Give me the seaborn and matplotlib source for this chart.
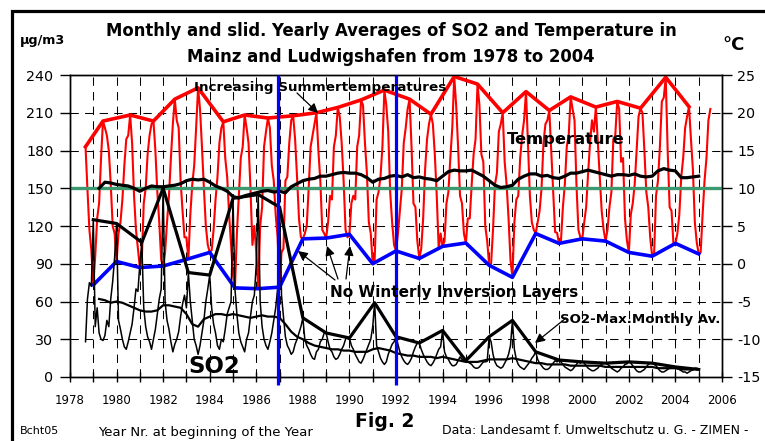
import numpy as np
import pandas as pd
import matplotlib
matplotlib.use("Agg")
import matplotlib.pyplot as plt
import seaborn as sns
from matplotlib.patches import Rectangle
from matplotlib.ticker import MultipleLocator

# ---------------- data ----------------
# Monthly temperature in degC, Sep 1978 .. Jul 2005
TEMP_START = 1978 + 8 / 12
temp_monthly = [
    15.5, 9.8, 4.5, 1.8,                                              # 1978 Sep-Dec
    -2.8, 1.0, 6.0, 8.0, 14.0, 18.9, 18.0, 17.0, 15.0, 10.5, 5.0, 4.0,  # 1979
    0.3, 4.0, 5.5, 8.5, 13.0, 16.5, 17.0, 19.7, 16.0, 9.0, 4.5, 2.0,    # 1980
    -0.5, 0.5, 8.0, 10.0, 14.5, 17.0, 18.5, 18.9, 15.0, 9.5, 5.5, 0.5,  # 1981
    -0.3, 1.5, 5.5, 9.0, 14.0, 18.5, 21.8, 19.0, 18.0, 11.0, 7.0, 3.5,  # 1982
    3.5, 0.65, 6.5, 10.5, 13.0, 18.0, 23.3, 20.5, 15.5, 10.0, 5.0, 2.5, # 1983
    1.5, 1.8, 4.5, 8.5, 11.5, 16.0, 18.0, 18.8, 14.0, 11.5, 6.5, 2.5,   # 1984
    -1.5, -3.2, 4.0, 9.0, 14.0, 15.5, 19.7, 18.0, 16.0, 10.0, 2.5, 5.0, # 1985
    1.5, -3.3, 5.0, 7.5, 15.5, 17.5, 19.3, 18.0, 13.0, 11.0, 6.5, 3.5,  # 1986
    -3.1, 1.5, 2.0, 11.0, 11.5, 16.0, 19.0, 19.6, 16.5, 11.5, 6.0, 3.5, # 1987
    3.3, 4.0, 5.0, 10.0, 15.5, 17.0, 18.5, 20.0, 15.0, 11.0, 4.5, 4.0,  # 1988
    3.4, 5.5, 9.0, 8.5, 15.5, 17.0, 20.7, 19.5, 16.0, 11.0, 4.5, 3.5,   # 1989
    3.9, 8.0, 9.0, 8.5, 15.5, 17.0, 21.7, 21.0, 16.0, 12.0, 5.5, 4.0,   # 1990
    0.0, 0.5, 8.5, 9.5, 11.5, 15.5, 23.0, 21.0, 17.5, 9.5, 5.5, 2.5,    # 1991
    1.7, 4.0, 7.0, 10.0, 16.0, 18.0, 20.5, 21.8, 15.5, 8.0, 7.5, 3.0,   # 1992
    0.7, 2.0, 6.0, 12.5, 16.5, 18.5, 19.8, 18.5, 14.5, 9.0, 2.0, 4.0,   # 1993
    2.3, 3.0, 8.0, 9.5, 14.0, 18.0, 24.8, 21.0, 15.5, 9.0, 8.0, 4.0,    # 1994
    2.75, 6.0, 6.0, 10.5, 14.5, 16.5, 23.8, 21.0, 14.5, 13.5, 5.0, 3.0, # 1995
    -0.2, 0.0, 4.5, 10.5, 12.0, 17.5, 18.5, 20.0, 13.5, 10.5, 6.0, 0.5, # 1996
    -1.8, 5.5, 8.5, 9.0, 14.0, 17.0, 19.0, 22.8, 16.0, 9.0, 5.5, 4.5,   # 1997
    4.0, 5.5, 7.0, 10.0, 16.0, 18.5, 19.0, 20.3, 15.0, 10.0, 4.2, 4.1,  # 1998
    2.7, 3.0, 7.5, 10.5, 15.5, 17.0, 22.1, 20.5, 19.0, 10.5, 4.5, 3.5,  # 1999
    3.3, 5.5, 7.5, 12.0, 16.0, 19.0, 17.5, 20.75, 16.0, 11.5, 7.0, 4.5, # 2000
    3.0, 4.5, 7.5, 9.5, 16.5, 17.0, 21.5, 20.5, 13.5, 14.0, 6.0, 3.1,   # 2001
    1.5, 6.5, 8.0, 10.5, 15.0, 19.5, 20.6, 20.0, 15.0, 9.5, 7.5, 3.5,   # 2002
    1.0, 1.2, 9.0, 11.0, 15.5, 21.5, 22.0, 24.7, 15.0, 7.5, 7.0, 2.5,   # 2003
    2.7, 4.0, 6.5, 11.5, 14.0, 18.0, 19.5, 20.8, 16.5, 12.5, 5.5, 2.8,  # 2004
    1.3, 1.5, 6.5, 11.0, 14.0, 19.0, 20.5,                              # 2005 Jan-Jul
]
# years used for the summer-max (red) and winter-min (blue) envelopes
max_env_years = (1978, 2004)
min_env_years = (1979, 2005)

# Sliding yearly average of temperature (degC), quarterly from 1979.25
TEMP_SLID_START = 1979.25
temp_sliding = [
    10.0, 10.8, 10.7,
    10.5, 10.4, 10.3, 10.0,  9.6, 10.0, 10.3, 10.2,  10.2, 10.3, 10.4, 10.6,
    11.0, 11.2, 11.1, 11.2,  10.8, 10.3, 10.0, 9.6,  8.9, 8.7, 9.0, 9.2,
    9.4, 9.6, 9.7, 9.5,      9.6, 9.4, 10.2, 10.6,   11.0, 11.2, 11.3, 11.6,
    11.6, 11.8, 12.0, 12.1,  12.0, 12.0, 11.8, 11.4, 10.8, 11.2, 11.3, 11.6,
    11.7, 11.5, 11.8, 11.4,  11.5, 11.3, 11.2, 11.0, 11.6, 12.2, 12.4, 12.3,
    12.3, 12.4, 12.0, 11.6,  11.0, 10.4, 10.1, 10.2, 10.4, 11.2, 11.6, 11.9,
    11.9, 11.6, 11.7, 11.4,  11.3, 11.6, 12.0, 12.0, 12.2, 12.4, 12.2, 12.0,
    11.8, 11.6, 11.8, 11.8,  11.7, 11.9, 11.6, 11.5, 11.6, 12.3, 12.6, 12.4,
    12.3, 11.4, 11.4, 11.5,  11.6,
]

# Monthly SO2 in ug/m3, Sep 1978 .. Jan 2005
SO2_START = 1978 + 8 / 12
so2_monthly = [
    28, 62, 75, 72,                                       # 1978 Sep-Dec
    125, 40, 55, 35, 30, 29, 33, 45, 40, 62, 76, 95,      # 1979
    122, 45, 38, 30, 24, 22, 28, 35, 42, 55, 70, 68,      # 1980
    90, 107, 55, 40, 32, 28, 22, 30, 38, 50, 62, 70,      # 1981
    150, 60, 45, 38, 28, 20, 26, 30, 36, 48, 58, 65,      # 1982
    55, 83, 60, 45, 30, 25, 18, 25, 35, 45, 60, 70,       # 1983
    81, 55, 42, 35, 25, 22, 30, 28, 38, 50, 55, 60,       # 1984
    142, 70, 50, 35, 28, 24, 20, 30, 35, 48, 60, 65,      # 1985
    90, 145, 60, 40, 30, 25, 22, 28, 35, 45, 55, 70,      # 1986
    135, 65, 48, 32, 25, 22, 18, 20, 26, 30, 35, 40,      # 1987
    47, 30, 25, 22, 18, 15, 14, 20, 22, 28, 30, 35,       # 1988
    35, 28, 22, 20, 16, 14, 15, 18, 22, 25, 30, 32,       # 1989
    31, 25, 22, 18, 15, 12, 11, 14, 18, 22, 26, 30,       # 1990
    40, 59, 25, 20, 15, 12, 10, 12, 18, 22, 26, 28,       # 1991
    32, 26, 20, 16, 13, 11, 10, 12, 15, 20, 24, 27,       # 1992
    27, 22, 18, 15, 12, 10, 9, 11, 14, 18, 22, 24,        # 1993
    37, 20, 16, 14, 11, 9, 9, 10, 13, 16, 14, 13,         # 1994
    13, 12, 11, 10, 8, 7, 7, 8, 10, 12, 12, 12.5,         # 1995
    32, 28, 18, 12, 9, 8, 7, 8, 11, 14, 18, 25,           # 1996
    45, 22, 14, 10, 8, 7, 6, 8, 10, 12, 15, 17,           # 1997
    20, 14, 11, 9, 7, 6, 6, 7, 9, 11, 13, 12,             # 1998
    13.5, 12, 10, 8, 7, 6, 5, 6, 8, 10, 12, 11,           # 1999
    12, 11, 9, 7, 6, 5, 5, 6, 7, 9, 10, 11,               # 2000
    11, 10, 9, 7, 6, 5, 4, 5, 7, 8, 10, 10.5,             # 2001
    12, 11, 9, 7, 5, 4, 4, 5, 6, 8, 10, 11,               # 2002
    11, 10, 9, 7, 5, 4, 4, 5, 6, 7, 9, 8,                 # 2003
    8, 7, 6, 5, 4, 4, 3, 4, 5, 6, 7, 7,                   # 2004
    6,                                                    # 2005 Jan
]
so2_max_years = (1979, 2005)

# Sliding yearly average of SO2, quarterly from 1979.25
SO2_SLID_START = 1979.25
so2_sliding = [
    62, 61, 59,
    60, 59, 57, 55,  53, 52, 52, 53,  57, 57, 56, 55,  50, 42, 40, 46,
    48, 50, 50, 49,  50, 49, 48, 47,  48, 49, 48, 48,  47, 42, 36, 32,
    30, 27, 25, 24,  23, 22, 22, 21,  21, 20, 20, 20,  22, 23, 22, 21,
    19, 18, 17, 17,  16, 16, 16, 15,  16, 15, 14, 13,  12, 12, 12, 13,
    14, 14, 14, 14,  15, 14, 13, 12,  11, 11, 10, 10,  10, 10, 9, 9,
    9, 9, 9, 9,      8, 8, 8, 8,      8, 8, 8, 8,      8, 7, 7, 7,
    7, 6, 6, 6,
]

# Event years marked with blue vertical lines
event_years = [1986.92, 1992.0]
ref_temp = 10  # degC reference (green line)

x_ticks_major = 2
so2_lim = (0, 240)
temp_lim = (-15, 25)

# ---------------- frames ----------------
temp_df = pd.DataFrame({"x": TEMP_START + np.arange(len(temp_monthly)) / 12,
                        "t": temp_monthly})
temp_df["year"] = np.floor(temp_df["x"] + 1e-6).astype(int)
so2_df = pd.DataFrame({"x": SO2_START + np.arange(len(so2_monthly)) / 12,
                       "v": so2_monthly})
so2_df["year"] = np.floor(so2_df["x"] + 1e-6).astype(int)

tmax = temp_df[temp_df.year.between(*max_env_years)]
tmax = tmax.loc[tmax.groupby("year")["t"].idxmax()]
tmin = temp_df[temp_df.year.between(*min_env_years)]
tmin = tmin.loc[tmin.groupby("year")["t"].idxmin()]
smax = so2_df[so2_df.year.between(*so2_max_years)]
smax = smax.loc[smax.groupby("year")["v"].idxmax()]

tslid = pd.DataFrame({"x": TEMP_SLID_START + np.arange(len(temp_sliding)) / 4,
                      "t": temp_sliding})
sslid = pd.DataFrame({"x": SO2_SLID_START + np.arange(len(so2_sliding)) / 4,
                      "v": so2_sliding})

# ---------------- figure ----------------
plt.rcParams["font.family"] = ["DejaVu Sans"]
plt.rcParams["axes.unicode_minus"] = False
W, H = 765, 441
fig = plt.figure(figsize=(W / 100, H / 100), dpi=100)
fig.patch.set_facecolor("white")
ax = fig.add_axes([70 / W, 1 - 377 / H, (722 - 70) / W, (377 - 75) / H])
ax2 = ax.twinx()
ax2.set_zorder(1)
ax.set_zorder(2)
ax.patch.set_visible(False)

RED, BLUE, GREEN = "#ff0000", "#0000ff", "#3d9970"

# temperature (right axis)
sns.lineplot(data=temp_df, x="x", y="t", ax=ax2, color=RED, lw=1.5,
             estimator=None, sort=False, legend=False, zorder=2)
sns.lineplot(data=tmax, x="x", y="t", ax=ax2, color=RED, lw=2.6,
             estimator=None, sort=False, legend=False, zorder=3)
sns.lineplot(data=tmin, x="x", y="t", ax=ax2, color=BLUE, lw=2.6,
             estimator=None, sort=False, legend=False, zorder=3)
ax2.axhline(ref_temp, color=GREEN, lw=2.4, zorder=4)
sns.lineplot(data=tslid, x="x", y="t", ax=ax2, color="black", lw=2.3,
             estimator=None, sort=False, legend=False, zorder=5)

# SO2 (left axis)
sns.lineplot(data=so2_df, x="x", y="v", ax=ax, color="black", lw=1.1,
             estimator=None, sort=False, legend=False, zorder=2)
sns.lineplot(data=sslid, x="x", y="v", ax=ax, color="black", lw=1.6,
             estimator=None, sort=False, legend=False, zorder=2.5)
sns.lineplot(data=smax, x="x", y="v", ax=ax, color="black", lw=2.3,
             estimator=None, sort=False, legend=False, zorder=3)
for yr in event_years:
    ax.axvline(yr, ymin=-8 / 302, ymax=1, color=BLUE, lw=2.3, zorder=6,
               clip_on=False, solid_capstyle="butt")

# axes cosmetics
ax.set_xlim(1978, 2006)
ax.set_ylim(*so2_lim)
ax2.set_ylim(*temp_lim)
ax.xaxis.set_major_locator(MultipleLocator(x_ticks_major))
ax.xaxis.set_minor_locator(MultipleLocator(1))
ax.yaxis.set_major_locator(MultipleLocator(30))
ax2.yaxis.set_major_locator(MultipleLocator(5))
for a in (ax, ax2):
    a.set_xlabel("")
    a.set_ylabel("")

# grid lives on the lower (temperature) axes so that it stays behind the lines
dash = (0, (8, 6))
ax2.xaxis.set_visible(True)
ax2.tick_params(axis="x", which="both", bottom=False, top=False,
                labelbottom=False, labeltop=False)
ax2.grid(True, which="both", axis="x", color="black", lw=0.75, ls=dash)
ax2.grid(True, which="major", axis="y", color="black", lw=0.75, ls=dash)
ax2.set_axisbelow(True)
ax.grid(False)

for a in (ax, ax2):
    for s in a.spines.values():
        s.set_color("black")
        s.set_linewidth(1.0)
ax.tick_params(axis="x", which="both", direction="inout", length=7, width=1,
               labelsize=8.5, pad=8.5, colors="black")
ax.tick_params(axis="y", direction="out", length=7, width=1, labelsize=10.3,
               pad=5, colors="black")
ax2.tick_params(axis="y", direction="out", length=7, width=1, labelsize=10.3,
                pad=4, colors="black")

# ---------------- texts ----------------
def fx(px):
    return px / W

def fy(py):
    return 1 - py / H

fig.text(fx(391), fy(36), "Monthly and slid. Yearly Averages of SO2 and Temperature in",
         ha="center", va="baseline", fontsize=11.9, fontweight="bold")
fig.text(fx(391), fy(62), "Mainz and Ludwigshafen from 1978 to 2004",
         ha="center", va="baseline", fontsize=11.9, fontweight="bold")
fig.text(fx(20), fy(44), "µg/m3", ha="left", va="baseline", fontsize=9.2,
         fontweight="bold")
fig.text(fx(722), fy(50), "°C", ha="left", va="baseline", fontsize=13,
         fontweight="bold")

fig.text(fx(194), fy(91), "Increasing Summertemperatures", ha="left",
         va="baseline", fontsize=9.7, fontweight="bold", zorder=10)
fig.text(fx(507), fy(144), "Temperature", ha="left", va="baseline",
         fontsize=11.7, fontweight="bold", zorder=10)
fig.text(fx(330), fy(297), "No Winterly Inversion Layers", ha="left",
         va="baseline", fontsize=11, fontweight="bold", zorder=10)
fig.text(fx(188), fy(373), "SO2", ha="left", va="baseline", fontsize=16.5,
         fontweight="bold", zorder=10)
fig.text(fx(560), fy(323), "SO2-Max.Monthly Av.", ha="left", va="baseline",
         fontsize=9.6, fontweight="bold", zorder=10)

fig.text(fx(20), fy(434), "Bcht05", ha="left", va="baseline", fontsize=8)
fig.text(fx(98), fy(436), "Year Nr. at beginning of the Year", ha="left",
         va="baseline", fontsize=9.5)
fig.text(fx(355), fy(427), "Fig. 2", ha="left", va="baseline", fontsize=13.5,
         fontweight="bold")
fig.text(fx(442), fy(434), "Data: Landesamt f. Umweltschutz u. G. - ZIMEN -",
         ha="left", va="baseline", fontsize=9)

# arrows (figure pixel coordinates, origin bottom-left)
arrow_kw = dict(arrowstyle="-|>", color="black", lw=0.9, mutation_scale=14,
                shrinkA=0, shrinkB=0)
arrows = [((297, 93), (318, 113)),
          ((335, 280), (298, 251)),
          ((338, 279), (327, 246)),
          ((346, 279), (350, 246)),
          ((566, 318), (535, 343))]
for (tx, ty), (hx, hy) in arrows:
    ax.annotate("", xy=(hx, H - hy), xycoords="figure pixels",
                xytext=(tx, H - ty), textcoords="figure pixels",
                arrowprops=arrow_kw, zorder=10)

# outer frame (cut at right and bottom like the reference)
fig.add_artist(Rectangle((11.5 / W, -0.5), 2.0, (1 - 11 / H) + 0.5,
                         transform=fig.transFigure, fill=False,
                         ec="black", lw=2.3))

fig.savefig("out.png", dpi=100, facecolor="white")
